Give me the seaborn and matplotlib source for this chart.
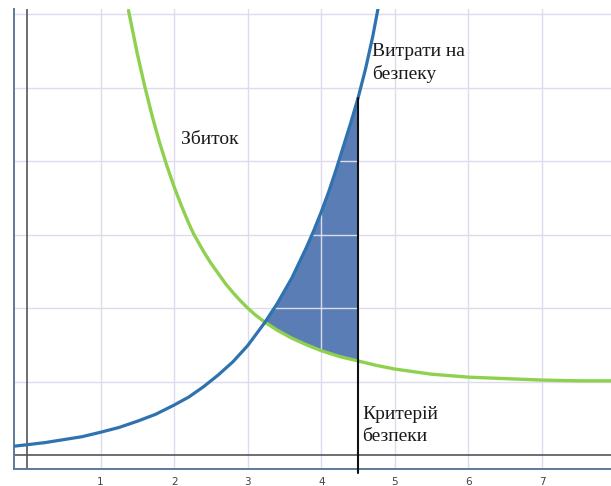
import numpy as np
import pandas as pd
import matplotlib
matplotlib.use("Agg")
import matplotlib.pyplot as plt
import seaborn as sns

# ---- data ----
cost_x = [-0.18, 0.0, 0.25, 0.5, 0.75, 1.0, 1.25, 1.5, 1.75, 2.0, 2.2, 2.4, 2.6,
          2.8, 3.0, 3.23, 3.4, 3.6, 3.8, 3.9, 4.0, 4.1, 4.2, 4.3, 4.4, 4.5,
          4.6, 4.7, 4.77]
cost_y = [0.12, 0.14, 0.17, 0.21, 0.25, 0.31, 0.375, 0.46, 0.555, 0.68, 0.79,
          0.93, 1.09, 1.27, 1.49, 1.80, 2.06, 2.41, 2.83, 3.06, 3.31, 3.58,
          3.88, 4.20, 4.52, 4.86, 5.25, 5.70, 6.07]

loss_x = [1.38, 1.5, 1.6, 1.7, 1.8, 1.9, 2.0, 2.1, 2.2, 2.27, 2.4, 2.5, 2.6, 2.7,
          2.8, 2.9, 3.0, 3.1, 3.23, 3.4, 3.6, 3.8, 4.0, 4.25, 4.5, 4.75, 5.0,
          5.5, 6.0, 6.5, 7.0, 7.5, 7.95]
loss_y = [6.05, 5.46, 5.02, 4.62, 4.26, 3.94, 3.65, 3.39, 3.15, 3.00, 2.77, 2.61,
          2.47, 2.33, 2.21, 2.10, 2.00, 1.91, 1.81, 1.70, 1.59, 1.50, 1.42, 1.34,
          1.28, 1.22, 1.17, 1.10, 1.06, 1.04, 1.02, 1.01, 1.01]

crossing_x = 3.23
criterion_x = 4.5
x_ticks = [1, 2, 3, 4, 5, 6, 7]
x_tick_labels = ["1", "2", "3", "4", "5", "6", "7"]
label_cost = "Витрати на\nбезпеку"
label_loss = "Збиток"
label_criterion = "Критерій\nбезпеки"

cost_df = pd.DataFrame({"x": cost_x, "y": cost_y})
loss_df = pd.DataFrame({"x": loss_x, "y": loss_y})

# ---- figure ----
sns.set_style("white")
fig = plt.figure(figsize=(6.11, 4.86), dpi=100)
ax = fig.add_axes([14 / 611, 17 / 486, 1 - 14 / 611 + 0.01, (469 - 9) / 486])

ax.set_xlim(-0.176, 8.02)
ax.set_ylim(-0.19, 6.07)

grid_c = "#dcdcee"
ax.set_xticks(x_ticks)
ax.set_xticklabels(x_tick_labels)
ax.set_yticks([1, 2, 3, 4, 5, 6])
ax.set_yticklabels([])
ax.grid(True, color=grid_c, linewidth=1.0)
ax.set_axisbelow(True)
ax.tick_params(axis="x", length=0, pad=6, labelsize=7.5, labelcolor="#444444")
ax.tick_params(axis="y", length=0)

for s in ["top", "right"]:
    ax.spines[s].set_visible(False)
for s in ["left", "bottom"]:
    ax.spines[s].set_color("#5c7a98")
    ax.spines[s].set_linewidth(1.4)

# axis lines at x=0 and y=0
ax.axvline(0, color="#555555", lw=1.2, zorder=1)
ax.axhline(0, color="#555555", lw=1.2, zorder=1)

# shaded region between the two curves
bx = [x for x in cost_x if crossing_x <= x <= criterion_x]
by = [y for x, y in zip(cost_x, cost_y) if crossing_x <= x <= criterion_x]
gx = [x for x in loss_x if crossing_x <= x <= criterion_x][::-1]
gy = [y for x, y in zip(loss_x, loss_y) if crossing_x <= x <= criterion_x][::-1]
ax.fill(bx + gx, by + gy, color="#5a7db5", zorder=0.3, lw=0)
ax.plot(bx, by, color="white", lw=0.8, ls=(0, (2, 2)), zorder=1.5)
ax.plot(gx, gy, color="white", lw=0.8, ls=(0, (2, 2)), zorder=1.5)

# curves
sns.lineplot(data=loss_df, x="x", y="y", ax=ax, color="#8fd14f", lw=2.4,
             sort=False, zorder=3)
sns.lineplot(data=cost_df, x="x", y="y", ax=ax, color="#2f72b0", lw=2.3,
             sort=False, zorder=3.2)
ax.set_xlabel("")
ax.set_ylabel("")

# criterion line
top_y = cost_y[cost_x.index(criterion_x)]
ax.plot([criterion_x, criterion_x], [-0.24, top_y], color="#111111", lw=1.5,
        zorder=4, clip_on=False)

serif = ["Liberation Serif", "DejaVu Serif"]
ax.text(2.10, 4.30, label_loss, fontsize=14, family=serif, color="#1a1a1a",
        ha="left", va="center")
ax.text(4.69, 5.33, label_cost, fontsize=14, family=serif, color="#1a1a1a",
        ha="left", va="center", linespacing=1.35)
ax.text(4.56, 0.40, label_criterion, fontsize=14, family=serif, color="#1a1a1a",
        ha="left", va="center", linespacing=1.35)

fig.savefig("out.png", dpi=100)
